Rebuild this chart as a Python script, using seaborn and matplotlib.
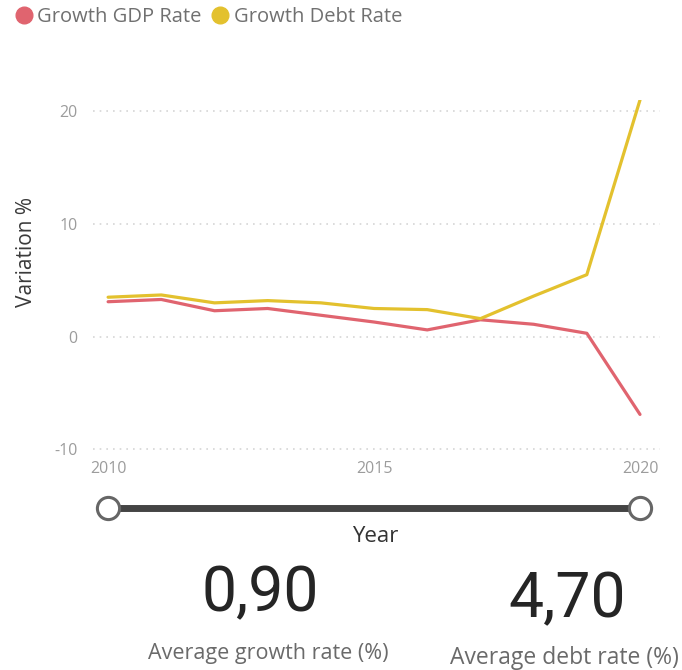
import matplotlib
matplotlib.use("Agg")
import matplotlib.pyplot as plt
import seaborn as sns
import pandas as pd
from matplotlib.lines import Line2D

years = [2010, 2011, 2012, 2013, 2014, 2015, 2016, 2017, 2018, 2019, 2020]
gdp_rate = [3.1, 3.3, 2.3, 2.5, 1.9, 1.3, 0.6, 1.5, 1.1, 0.3, -6.9]
debt_rate = [3.5, 3.7, 3.0, 3.2, 3.0, 2.5, 2.4, 1.6, 3.6, 5.5, 21.0]
series_names = ["Growth GDP Rate", "Growth Debt Rate"]
colors = ["#E0646F", "#E3C12E"]
y_ticks = [-10, 0, 10, 20]
x_ticks = [2010, 2015, 2020]
kpi_values = ["0,90", "4,70"]
kpi_labels = ["Average growth rate (%)", "Average debt rate (%)"]

df = pd.DataFrame({"Year": years * 2,
                   "Rate": gdp_rate + debt_rate,
                   "Series": [series_names[0]] * len(years) + [series_names[1]] * len(years)})

sns.set_theme(style="white")
plt.rcParams["font.family"] = ["Open Sans", "DejaVu Sans"]

W, H = 682, 670
fig = plt.figure(figsize=(W / 100, H / 100), dpi=100)

def fx(px):
    return px / W

def fy(py):
    return 1 - py / H

ax = fig.add_axes([fx(93), fy(455), fx(660) - fx(93), fy(100) - fy(455)])
sns.lineplot(data=df, x="Year", y="Rate", hue="Series", palette=colors,
             linewidth=2.3, ax=ax, legend=False)
ax.set_xlim(2009.716, 2020.376)
ax.set_ylim(-10.5, 21)
ax.set_yticks(y_ticks)
ax.set_xticks(x_ticks)
ax.set_xticklabels([str(t) for t in x_ticks])
ax.set_yticklabels([str(t) for t in y_ticks])
for s in ax.spines.values():
    s.set_visible(False)
ax.grid(axis="y", color="#D5D5D5", linestyle=(0, (1, 3)), linewidth=1.2)
ax.grid(axis="x", visible=False)
ax.set_axisbelow(True)
ax.tick_params(axis="both", length=0, labelsize=11.5, labelcolor="#9C9C9C")
ax.tick_params(axis="y", pad=11)
ax.tick_params(axis="x", pad=4)
ax.set_xlabel("")
ax.set_ylabel("")

fig.text(fx(27), fy(252), "Variation %", rotation=90, ha="center", va="center",
         fontsize=15, color="#3A3A3A")

handles = [Line2D([], [], marker="o", linestyle="", markersize=12,
                  markerfacecolor=c, markeredgecolor=c) for c in colors]
fig.legend(handles, series_names, loc="center left", bbox_to_anchor=(fx(13.5), fy(17)),
           ncol=2, frameon=False, fontsize=14.5, handlelength=1.0, handletextpad=0.18,
           columnspacing=0.42, labelcolor="#707070", borderaxespad=0, borderpad=0)

# slider
sax = fig.add_axes([fx(93), fy(525), fx(660) - fx(93), fy(490) - fy(525)])
sax.set_xlim(ax.get_xlim())
sax.set_ylim(-1, 1)
sax.plot([min(years), max(years)], [0, 0], color="#444444", linewidth=5, solid_capstyle="butt")
sax.plot([min(years), max(years)], [0, 0], linestyle="", marker="o", markersize=16,
         markerfacecolor="white", markeredgecolor="#666666", markeredgewidth=2.2)
sax.axis("off")

fig.text(fx(375), fy(537), "Year", ha="center", va="center", fontsize=16, color="#333333")

kfont = ["Roboto", "DejaVu Sans"]
fig.text(fx(260), fy(594), kpi_values[0], ha="center", va="center", fontsize=45,
         color="#252525", family=kfont, fontweight="normal")
fig.text(fx(567), fy(600), kpi_values[1], ha="center", va="center", fontsize=45,
         color="#252525", family=kfont, fontweight="normal")
fig.text(fx(268), fy(653), kpi_labels[0], ha="center", va="center", fontsize=15.5, color="#6A6A6A")
fig.text(fx(450), fy(658), kpi_labels[1], ha="left", va="center", fontsize=16.5, color="#6A6A6A")

fig.savefig("out.png", dpi=100, facecolor="white")
